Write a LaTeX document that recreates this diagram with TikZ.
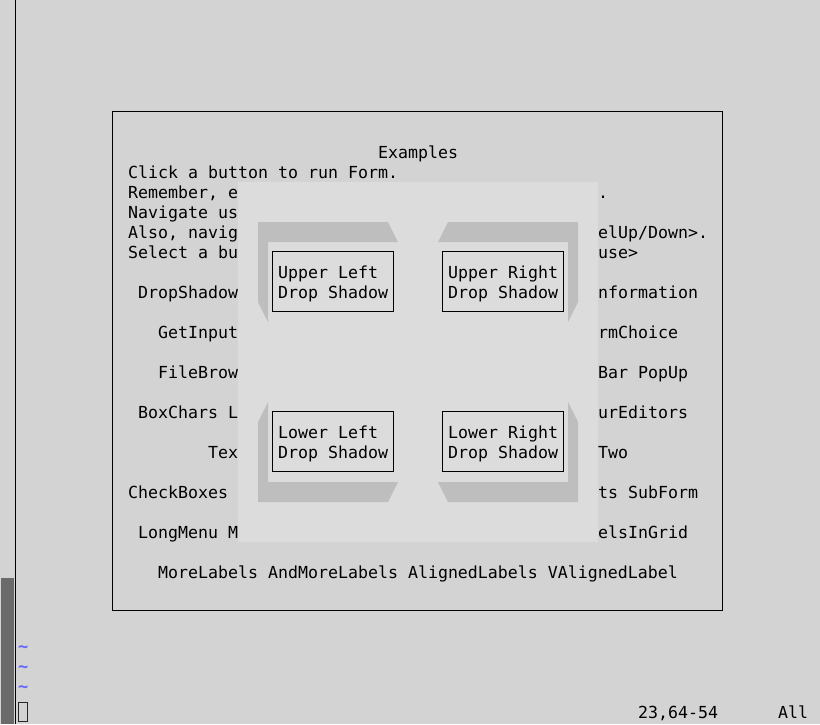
\documentclass[tikz,border=0pt]{standalone}
\usepackage{fontspec}
\newfontfamily\term{DejaVu Sans Mono}
\newfontfamily\termb{DejaVu Sans Mono Bold}
\definecolor{scr}{HTML}{D3D3D3}
\definecolor{pop}{HTML}{DCDCDC}
\definecolor{shd}{HTML}{BEBEBE}
\definecolor{tld}{HTML}{6464FF}
\definecolor{dith}{HTML}{6A6A6A}
\tikzset{
  txt/.style={anchor=base west,inner sep=0pt,font=\term\fontsize{16.6}{20}\selectfont,text=black},
  tilde/.style={anchor=base west,inner sep=0pt,font=\termb\fontsize{17}{20}\selectfont,text=tld},
  frameline/.style={draw=black,line width=1pt},
  shadow/.style={fill=shd},
}
\begin{document}
\begin{tikzpicture}[x=1pt,y=-1pt]
\useasboundingbox (0,0) rectangle (820,724);
\fill[scr] (0,0) rectangle (820,724);
% left margin line and dithered block
\fill[dith] (1,578) rectangle (14,724);
\draw[line width=1pt] (15.5,0) -- (15.5,724);
% outer frame
\draw[frameline] (112.5,111.5) rectangle (722.5,610.5);
% texts behind popup
\node[txt] (t0) at (378,158) {Examples};
\node[txt] (t1) at (128,178) {Click a button to run Form.};
\node[txt] (t2) at (128,198) {Remember, e};
\node[txt] (t3) at (128,218) {Navigate us};
\node[txt] (t4) at (128,238) {Also, navig};
\node[txt] (t5) at (128,258) {Select a bu};
\node[txt] (l1) at (138,298) {DropShadow};
\node[txt] (l2) at (158,338) {GetInput};
\node[txt] (l3) at (158,378) {FileBrow};
\node[txt] (l4) at (138,418) {BoxChars L};
\node[txt] (l5) at (208,458) {Tex};
\node[txt] (l6) at (128,498) {CheckBoxes};
\node[txt] (l7) at (138,538) {LongMenu M};
\node[txt] (r0) at (598,198) {.};
\node[txt] (r1) at (598,238) {elUp/Down>.};
\node[txt] (r2) at (598,258) {use>};
\node[txt] (r3) at (598,298) {nformation};
\node[txt] (r4) at (598,338) {rmChoice};
\node[txt] (r5) at (598,378) {Bar PopUp};
\node[txt] (r6) at (598,418) {urEditors};
\node[txt] (r7) at (598,458) {Two};
\node[txt] (r8) at (598,498) {ts SubForm};
\node[txt] (r9) at (598,538) {elsInGrid};
\node[txt] (bot) at (158,578) {MoreLabels AndMoreLabels AlignedLabels VAlignedLabel};
% popup
\fill[pop] (238,182) rectangle (598,542);
% shadows
\fill[shadow] (258,222) -- (388,222) -- (398,242) -- (268,242) -- (268,322) -- (258,302) -- cycle;
\fill[shadow] (448,222) -- (578,222) -- (578,302) -- (568,322) -- (568,242) -- (438,242) -- cycle;
\fill[shadow] (268,402) -- (268,482) -- (398,482) -- (388,502) -- (258,502) -- (258,422) -- cycle;
\fill[shadow] (568,402) -- (578,422) -- (578,502) -- (448,502) -- (438,482) -- (568,482) -- cycle;
% boxes
\draw[frameline] (272.5,251.5) rectangle (393.5,311.5);
\draw[frameline] (442.5,251.5) rectangle (563.5,311.5);
\draw[frameline] (272.5,411.5) rectangle (393.5,471.5);
\draw[frameline] (442.5,411.5) rectangle (563.5,471.5);
\node[txt] (ula) at (278,278) {Upper Left};
\node[txt] (ulb) at (278,298) {Drop Shadow};
\node[txt] (ura) at (448,278) {Upper Right};
\node[txt] (urb) at (448,298) {Drop Shadow};
\node[txt] (lla) at (278,438) {Lower Left};
\node[txt] (llb) at (278,458) {Drop Shadow};
\node[txt] (lra) at (448,438) {Lower Right};
\node[txt] (lrb) at (448,458) {Drop Shadow};
% tildes, cursor, status
\node[tilde] (tl1) at (18,652) {\textasciitilde};
\node[tilde] (tl2) at (18,672) {\textasciitilde};
\node[tilde] (tl3) at (18,692) {\textasciitilde};
\draw[line width=1pt,draw=black!85] (18.5,702.5) rectangle (27.5,721.5);
\node[txt] (st1) at (638,718) {23,64-54};
\node[txt] (st2) at (778,718) {All};
\end{tikzpicture}
\end{document}
